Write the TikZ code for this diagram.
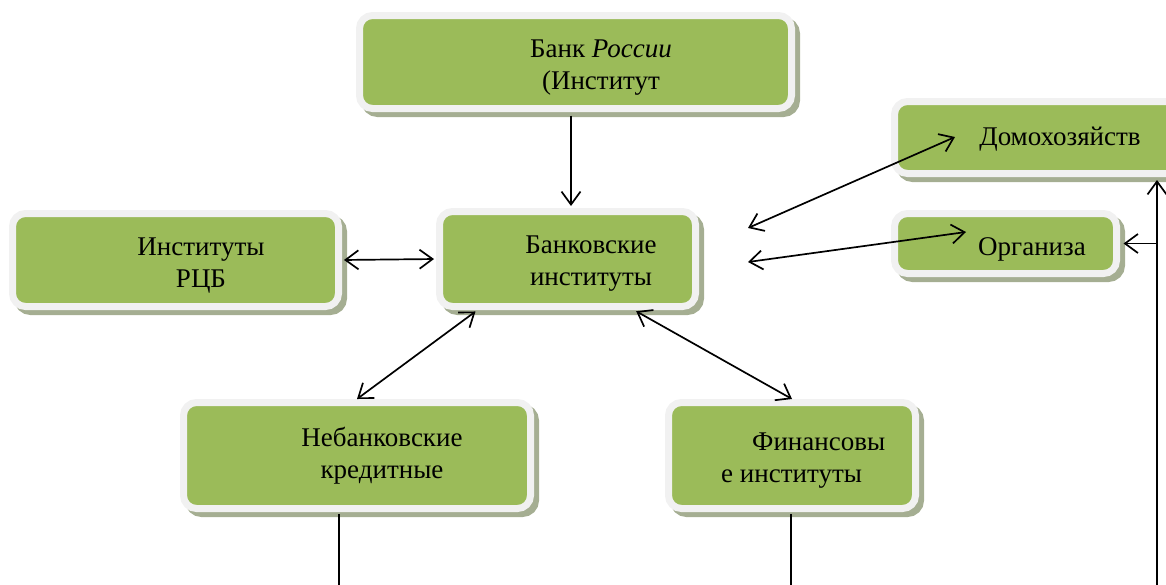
\documentclass[tikz,border=0pt]{standalone}
\usepackage{fontspec}
\setmainfont{Liberation Serif}
\usepackage{tikz}
\usetikzlibrary{arrows.meta}
\usetikzlibrary{shadows}
\definecolor{boxgreen}{RGB}{155,187,89}
\definecolor{boxrim}{RGB}{241,241,241}
\definecolor{boxshade}{RGB}{165,174,146}
\tikzset{
  inst/.style={shape=rectangle,rounded corners=13pt,fill=boxgreen,draw=boxrim,
    line width=7pt,inner sep=0pt,
    drop shadow={shadow xshift=5pt,shadow yshift=-5pt,fill=boxshade,
      draw=boxshade,line width=7pt,opacity=1}},
  insttext/.style={inner sep=0pt,align=center,font=\fontsize{27}{32}\selectfont},
  link/.style={line width=1.7pt,draw=black},
  tip/.style={arrows={-Straight Barb[length=13pt,width=19pt]}},
  tips/.style={arrows={Straight Barb[length=13pt,width=19pt]-Straight Barb[length=13pt,width=19pt]}}
}
\begin{document}
\begin{tikzpicture}[x=1pt,y=-1pt]
    \useasboundingbox (0,0) rectangle (1166,584);
    \node[inst,minimum width=432pt,minimum height=93pt] (bankR) at (575.5,62) {};
    \node[inst,minimum width=289pt,minimum height=72pt] (domo) at (1039,137.5) {};
    \node[inst,minimum width=222pt,minimum height=60pt] (org) at (1005.5,243.5) {};
    \node[inst,minimum width=326pt,minimum height=93pt] (rcb) at (175.5,260) {};
    \node[inst,minimum width=256pt,minimum height=95pt] (bank) at (567.5,259) {};
    \node[inst,minimum width=347pt,minimum height=106pt] (nebank) at (357,455.5) {};
    \node[inst,minimum width=247pt,minimum height=106pt] (fin) at (792,455.5) {};
    \node[insttext] (bankR-t) at (601,68) {Банк \textit{России}\\(Институт};
    \node[insttext] (domo-t) at (1060,139) {Домохозяйств};
    \node[insttext] (org-t) at (1032,249) {Организа};
    \node[insttext] (rcb-t) at (201,266) {Институты\\РЦБ};
    \node[insttext] (bank-t) at (591,264) {Банковские\\институты};
    \node[insttext] (nebank-t) at (382,456) {Небанковские\\кредитные};
    \node[insttext,align=left,anchor=west] (fin-t) at (721,461) {\hspace*{31pt}Финансовы\\е институты};
    \coordinate (bd) at (748,228);
    \coordinate (bo) at (748,262);
    \coordinate (dend) at (955,137);
    \coordinate (oend) at (966,232);
    \coordinate (nb) at (339,590);
    \coordinate (fb) at (791,590);
    \coordinate (rb) at (1157,590);
    \begin{scope}[link]
      \draw[tip,shorten <=3.5pt,shorten >=2pt] (bankR.south -| 571,0) -- (571,0 |- bank.north);
      \draw[tips,shorten <=2pt,shorten >=2pt] (rcb.east) -- (bank.west);
      \draw[tips] (bd) -- (dend);
      \draw[tips] (bo) -- (oend);
      \draw[tips,shorten <=2.5pt,shorten >=0pt] ([xshift=-90pt]bank.south) -- (nebank.north);
      \draw[tips,shorten <=2.5pt,shorten >=0pt] ([xshift=66.5pt]bank.south) -- (fin.north);
      \draw[shorten <=2pt] ([xshift=-18pt]nebank.south) -- (nb);
      \draw[shorten <=2pt] (fin.south -| fb) -- (fb);
      \draw[tip,shorten >=3pt] (rb) -- (rb |- domo.south);
      \draw[tip,shorten >=3.5pt] (rb |- org.east) -- (org.east);
    \end{scope}
\end{tikzpicture}
\end{document}
